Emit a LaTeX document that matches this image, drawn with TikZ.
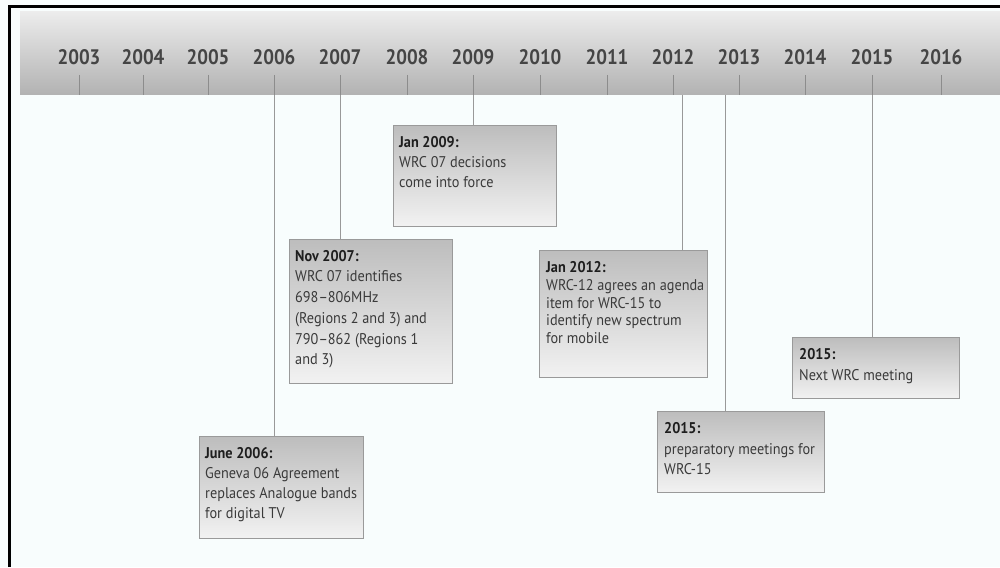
\documentclass[tikz,border=0pt]{standalone}
\usepackage{fontspec}
\setmainfont{PT Sans}
\newfontfamily\condfont[FakeStretch=0.92]{PT Sans}
\newfontfamily\yearfont[FakeStretch=0.9]{PT Sans}
\definecolor{pagebg}{HTML}{F8FDFD}
\definecolor{bandtop}{HTML}{ECECEC}
\definecolor{bandbot}{HTML}{B2B2B2}
\definecolor{yeartxt}{HTML}{454545}
\definecolor{tickgray}{HTML}{8C8C8C}
\definecolor{linkgray}{HTML}{999999}
\definecolor{boxedge}{HTML}{9A9A9A}
\definecolor{boxtop}{HTML}{BDBDBD}
\definecolor{boxbot}{HTML}{F2F2F2}
\definecolor{bodytxt}{HTML}{3A3A3A}
\definecolor{titletxt}{HTML}{1E1E1E}
\begin{document}
\begin{tikzpicture}[x=1pt,y=-1pt,
  yearlbl/.style={font=\yearfont\fontsize{21}{21}\selectfont\bfseries, text=yeartxt, inner sep=0},
  tickline/.style={draw=tickgray, line width=0.8pt},
  link/.style={draw=linkgray, line width=1pt},
  eventbox/.style={draw=boxedge, line width=0.9pt, top color=boxtop, bottom color=boxbot,
    anchor=north west, inner sep=0},
  eventtxt/.style={anchor=north west, inner sep=0, align=left, text=bodytxt,
    font=\condfont\fontsize{15.5}{20}\selectfont},
  tightxt/.style={eventtxt, font=\condfont\fontsize{15.5}{17.5}\selectfont},
]
\useasboundingbox (0,0) rectangle (1000,567);
\fill[pagebg] (0,0) rectangle (1000,567);

% header band with the years
\shade[top color=bandtop, bottom color=bandbot] (20,12) rectangle (1000,95);
\foreach \yr/\xx in {2003/79,2004/143,2005/208,2006/274,2007/340,2008/407,2009/473,
                     2010/540,2011/607,2012/673,2013/739,2014/805,2015/872,2016/941}{
  \node[yearlbl] (y\yr) at (\xx,57) {\yr};
  \draw[tickline] (\xx,75) -- (\xx,95);
}

% frame
\draw[black, line width=2.6pt] (9.5,567) -- (9.5,6.5) -- (1000,6.5);

% event boxes
\node[eventbox, minimum width=163, minimum height=101] (b2009) at (393,125) {};
\node[eventtxt] (t2009) at ([shift={(6,11)}]b2009.north west)
  {\textcolor{titletxt}{\textbf{Jan 2009:}}\\WRC 07 decisions\\come into force};

\node[eventbox, minimum width=163, minimum height=144] (b2007) at (289,239) {};
\node[eventtxt, font=\condfont\fontsize{15.5}{20.7}\selectfont] (t2007) at ([shift={(6,11)}]b2007.north west)
  {\textcolor{titletxt}{\textbf{Nov 2007:}}\\WRC 07 identifies\\698–806MHz\\(Regions 2 and 3) and\\790–862 (Regions 1\\and 3)};

\node[eventbox, minimum width=164, minimum height=102] (b2006) at (199,436) {};
\node[eventtxt] (t2006) at ([shift={(6,11)}]b2006.north west)
  {\textcolor{titletxt}{\textbf{June 2006:}}\\Geneva 06 Agreement\\replaces Analogue bands\\for digital TV};

\node[eventbox, minimum width=168, minimum height=127] (b2012) at (539,250) {};
\node[tightxt] (t2012) at ([shift={(7,11)}]b2012.north west)
  {\textcolor{titletxt}{\textbf{Jan 2012:}}\\[1pt]WRC-12 agrees an agenda\\item for WRC-15 to\\identify new spectrum\\for mobile};

\node[eventbox, minimum width=167, minimum height=81] (b2013) at (657,411) {};
\node[eventtxt] (t2013) at ([shift={(7,11)}]b2013.north west)
  {\textcolor{titletxt}{\textbf{2015:}}\\[1pt]preparatory meetings for\\WRC-15};

\node[eventbox, minimum width=167, minimum height=61] (b2015) at (792,337) {};
\node[eventtxt] (t2015) at ([shift={(7,11)}]b2015.north west)
  {\textcolor{titletxt}{\textbf{2015:}}\\[1pt]Next WRC meeting};

% connectors from the band down to each event
\coordinate (c2006) at (274,95);
\coordinate (c2007) at (340,95);
\coordinate (c2009) at (473,95);
\coordinate (c2012) at (682,95);
\coordinate (c2013) at (725,95);
\coordinate (c2015) at (872,95);
\draw[link] (c2006) -- (c2006 |- b2006.north);
\draw[link] (c2007) -- (c2007 |- b2007.north);
\draw[link] (c2009) -- (c2009 |- b2009.north);
\draw[link] (c2012) -- (c2012 |- b2012.north);
\draw[link] (c2013) -- (c2013 |- b2013.north);
\draw[link] (c2015) -- (c2015 |- b2015.north);
\end{tikzpicture}
\end{document}
